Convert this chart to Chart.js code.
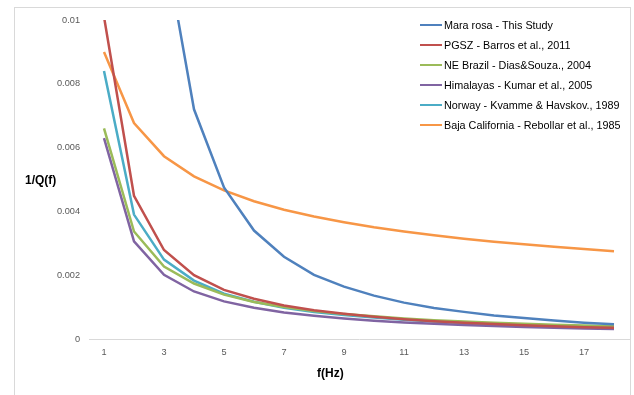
<!DOCTYPE html>
<html>
<head>
<meta charset="utf-8">
<script src="https://cdn.jsdelivr.net/npm/chart.js@4.4.1/dist/chart.umd.min.js"></script>
<style>
  html, body { margin: 0; padding: 0; background: #fff; }
  #wrap { position: relative; width: 634px; height: 395px; overflow: hidden; font-family: "Liberation Sans", Arial, sans-serif; }
  #frame { position: absolute; left: 14px; top: 7px; width: 615px; height: 420px; border: 1px solid #d9d9d9; }
  #chart { position: absolute; left: 0; top: 0; }
  .axis-title { position: absolute; font-weight: bold; font-size: 12px; color: #000; white-space: nowrap; }
  #ytitle { left: 25px; top: 173px; }
  #xtitle { left: 317px; top: 366px; }
  #legend { position: absolute; left: 420px; top: 15px; margin: 0; padding: 0; list-style: none; }
  #legend li { height: 20px; line-height: 20px; font-size: 10.8px; color: #000; display: flex; align-items: center; white-space: nowrap; }
  #legend .swatch { display: inline-block; width: 22px; height: 2.5px; margin-right: 2px; }
</style>
</head>
<body>
<div id="wrap">
  <div id="frame"></div>
  <canvas id="chart" width="634" height="395"></canvas>
  <div class="axis-title" id="ytitle">1/Q(f)</div>
  <div class="axis-title" id="xtitle">f(Hz)</div>
  <ul id="legend"></ul>
</div>
<script>
// frequencies (Hz)
const freqs = [1, 2, 3, 4, 5, 6, 7, 8, 9, 10, 11, 12, 13, 14, 15, 16, 17, 18];

// 1/Q(f) per study
const maraRosa = [0.1, 0.027, 0.0125, 0.0072, 0.00475, 0.0034, 0.00258, 0.00201, 0.00164, 0.00136, 0.00114, 0.00097, 0.00085, 0.00074, 0.00066, 0.00058, 0.00051, 0.00046];
const pgsz = [0.0101, 0.00449, 0.00279, 0.002, 0.00154, 0.00126, 0.00105, 0.0009, 0.00079, 0.0007, 0.00062, 0.00056, 0.00051, 0.00047, 0.00043, 0.0004, 0.00037, 0.00035];
const neBrazil = [0.0066, 0.00337, 0.00227, 0.00174, 0.00139, 0.00116, 0.001, 0.00088, 0.00078, 0.00071, 0.00064, 0.00059, 0.00055, 0.00051, 0.00048, 0.00045, 0.00042, 0.0004];
const himalayas = [0.0063, 0.00306, 0.00201, 0.00149, 0.00118, 0.00098, 0.00083, 0.00073, 0.00064, 0.00057, 0.00052, 0.00048, 0.00044, 0.00041, 0.00038, 0.00035, 0.00033, 0.00031];
const norway = [0.0084, 0.0039, 0.00249, 0.00183, 0.00142, 0.00117, 0.00098, 0.00085, 0.00075, 0.00067, 0.0006, 0.00055, 0.0005, 0.00046, 0.00042, 0.00039, 0.00036, 0.00034];
const bajaCalifornia = [0.009, 0.00677, 0.00573, 0.0051, 0.00466, 0.00432, 0.00405, 0.00384, 0.00366, 0.0035, 0.00337, 0.00325, 0.00314, 0.00305, 0.00297, 0.00289, 0.00282, 0.00275];

const seriesNames = [
  'Mara rosa - This Study',
  'PGSZ - Barros et al., 2011',
  'NE Brazil - Dias&Souza., 2004',
  'Himalayas - Kumar et al., 2005',
  'Norway - Kvamme & Havskov., 1989',
  'Baja California - Rebollar et al., 1985'
];
const seriesData = [maraRosa, pgsz, neBrazil, himalayas, norway, bajaCalifornia];
const seriesColors = ['#4F81BD', '#C0504D', '#9BBB59', '#8064A2', '#4BACC6', '#F79646'];

// y ticks
const yMin = 0;
const yMax = 0.01;
const yStep = 0.002;

window.addEventListener('DOMContentLoaded', () => {
  buildLegend();
  initChart();
});

function buildLegend() {
  const ul = document.getElementById('legend');
  seriesNames.forEach((name, i) => {
    const li = document.createElement('li');
    const sw = document.createElement('span');
    sw.className = 'swatch';
    sw.style.background = seriesColors[i];
    li.appendChild(sw);
    li.appendChild(document.createTextNode(name));
    ul.appendChild(li);
  });
}

function initChart() {
  const ctx = document.getElementById('chart').getContext('2d');
  const tickFont = { family: '"Liberation Sans", Arial, sans-serif', size: 9.2 };

  new Chart(ctx, {
    type: 'line',
    data: {
      labels: freqs.map(String),
      datasets: seriesData.map((d, i) => ({
        label: seriesNames[i],
        data: d,
        borderColor: seriesColors[i],
        backgroundColor: seriesColors[i],
        borderWidth: 2.5,
        pointRadius: 0,
        tension: 0,
        fill: false,
        clip: 0
      }))
    },
    options: {
      responsive: false,
      animation: false,
      layout: { padding: { top: 20, right: 5, left: 0, bottom: 0 } },
      plugins: {
        legend: { display: false },
        tooltip: { enabled: false }
      },
      scales: {
        x: {
          type: 'category',
          offset: true,
          grid: { display: false, drawTicks: false },
          border: { display: true, color: '#d9d9d9', width: 1 },
          ticks: {
            autoSkip: false,
            maxRotation: 0,
            padding: 8,
            color: '#595959',
            font: tickFont,
            callback: (v, i) => (i % 2 === 0 ? freqs[i] : '')
          },
          afterFit: s => { s.height = 56; }
        },
        y: {
          min: yMin,
          max: yMax,
          grid: { display: false, drawTicks: false },
          border: { display: false },
          ticks: {
            stepSize: yStep,
            padding: 9,
            color: '#595959',
            font: tickFont,
            callback: v => String(+v.toFixed(3))
          },
          afterFit: s => { s.width = 89; }
        }
      }
    }
  });
}
</script>
</body>
</html>
